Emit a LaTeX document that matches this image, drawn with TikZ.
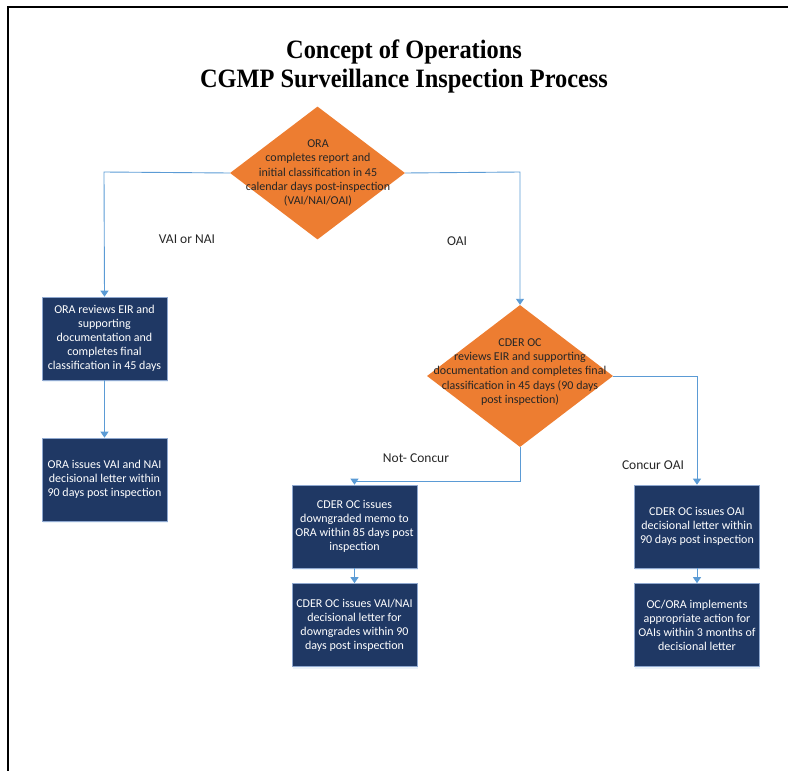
\documentclass[tikz,border=0pt]{standalone}
\usepackage{fontspec}
\setmainfont{Carlito}
\newfontfamily\titlefont[FakeStretch=0.92]{Liberation Serif}
\usetikzlibrary{arrows.meta,shapes.geometric,shadows}
\definecolor{dorange}{HTML}{ED7D31}
\definecolor{navy}{HTML}{1F3864}
\definecolor{lineblue}{HTML}{5B9BD5}
\definecolor{boxedge}{HTML}{8FA8CF}
\definecolor{txtdark}{HTML}{262626}
\tikzset{
  decision/.style={diamond, fill=dorange, draw=none, inner sep=0pt},
  dtext/.style={align=center, text=txtdark, font=\fontsize{12}{14.2}\selectfont},
  procbox/.style={rectangle, fill=navy, draw=boxedge, line width=0.6pt,
    minimum width=125pt, minimum height=83pt, inner sep=2pt,
    align=center, text=white, font=\fontsize{12}{14}\selectfont,
    drop shadow={opacity=0.12, shadow xshift=0.5pt, shadow yshift=-2pt, fill=lineblue}},
  conn/.style={draw=lineblue, line width=0.9pt, -{Triangle[width=8pt,length=6pt]}},
  lbl/.style={text=txtdark, font=\fontsize{13.5}{16}\selectfont},
  frameline/.style={line width=2pt, black}
}
\begin{document}
\begin{tikzpicture}[x=1pt,y=-1pt]
\useasboundingbox (0,0) rectangle (788,771);
\coordinate (fa) at (788,7);
\coordinate (fb) at (8,7);
\coordinate (fc) at (8,771);
\draw[frameline] (fa) -- (fb) -- (fc);

\node[font=\titlefont\bfseries\fontsize{26.5}{29}\selectfont, align=center] (title) at (404,66)
  {Concept of Operations\\CGMP Surveillance Inspection Process};

\node[decision, minimum width=175pt, minimum height=133pt] (d1) at (317.5,173) {};
\node[dtext] (d1t) at (318,173) {ORA\\completes report and\\initial classification in 45\\calendar days post-inspection\\(VAI/NAI/OAI)};

\node[decision, minimum width=186pt, minimum height=142pt] (d2) at (520,376) {};
\node[dtext] (d2t) at (520,372) {CDER OC\\reviews EIR and supporting\\documentation and completes final\\classification in 45 days (90 days\\post inspection)};

\node[procbox] (l1) at (104.5,338.5) {ORA reviews EIR and\\supporting\\documentation and\\completes final\\classification in 45 days};
\node[procbox] (l2) at (104.5,479.5) {ORA issues VAI and NAI\\decisional letter within\\90 days post inspection};
\node[procbox] (m1) at (354.5,526.5) {CDER OC issues\\downgraded memo to\\ORA within 85 days post\\inspection};
\node[procbox] (m2) at (354.5,625) {CDER OC issues VAI/NAI\\decisional letter for\\downgrades within 90\\days post inspection};
\node[procbox] (r1) at (697,526.5) {CDER OC issues OAI\\decisional letter within\\90 days post inspection};
\node[procbox] (r2) at (697,625) {OC/ORA implements\\appropriate action for\\OAIs within 3 months of\\decisional letter};

\coordinate (cl) at (104,172);
\coordinate (cr) at (520,172);
\coordinate (cb) at (520,481);
\coordinate (cm) at (354.5,481);
\coordinate (ce) at (697,376);

\draw[conn] (d1.west) -- (cl) -- (l1.north);
\draw[conn] (d1.east) -- (cr) -- (d2.north);
\draw[conn] (l1.south) -- (l2.north);
\draw[conn] (d2.south) -- (cb) -- (cm) -- (m1.north);
\draw[conn] (d2.east) -- (ce) -- (r1.north);
\draw[conn] (m1.south) -- (m2.north);
\draw[conn] (r1.south) -- (r2.north);

\node[lbl] (lab1) at (187,239) {VAI or NAI};
\node[lbl] (lab2) at (457,241) {OAI};
\node[lbl] (lab3) at (416,458) {Not- Concur};
\node[lbl] (lab4) at (653,465) {Concur OAI};
\end{tikzpicture}
\end{document}
